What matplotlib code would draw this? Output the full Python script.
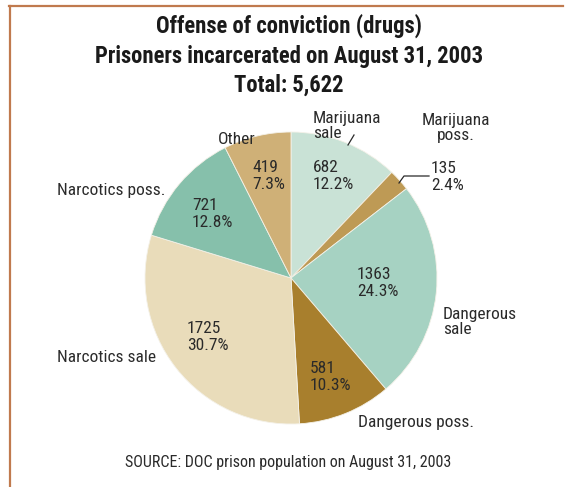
import matplotlib
matplotlib.use("Agg")
import matplotlib.pyplot as plt
from matplotlib.lines import Line2D

plt.rcParams['font.family'] = ['Roboto Condensed', 'Archivo Narrow', 'DejaVu Sans']

categories = ["Marijuana sale", "Marijuana poss.", "Dangerous sale", "Dangerous poss.",
              "Narcotics sale", "Narcotics poss.", "Other"]
counts = [682, 135, 1363, 581, 1725, 721, 419]
percents = [12.2, 2.4, 24.3, 10.3, 30.7, 12.8, 7.3]
colors = ["#C9E2D6", "#BE9A55", "#A6D2C2", "#A87F2D", "#E9DCBA", "#86C0AB", "#CFB077"]

W, H = 568, 487
fig = plt.figure(figsize=(W / 100, H / 100), dpi=100)
fig.patch.set_facecolor("white")

def fx(x):
    return x / W

def fy(y):
    return 1 - y / H

# frame lines along the top and left edge
border = "#C07A4E"
fig.add_artist(Line2D([fx(9), fx(563)], [fy(5.5), fy(5.5)], color=border, lw=1.6))
fig.add_artist(Line2D([fx(9.5), fx(9.5)], [fy(5.5), fy(487)], color=border, lw=1.6))

txt = "#2a2a2a"
for y, line in [(26, "Offense of conviction (drugs)"),
                (56, "Prisoners incarcerated on August 31, 2003"),
                (85, "Total: 5,622")]:
    fig.text(fx(289), fy(y), line, ha="center", va="center",
             fontsize=16.3, fontweight="bold", color="#1a1a1a")

cx, cy, r = 291, 278, 146
ax = fig.add_axes([fx(cx - r), fy(cy + r), 2 * r / W, 2 * r / H])
ax.pie(counts, colors=colors, startangle=90, counterclock=False,
       wedgeprops=dict(linewidth=0.6, edgecolor="#f4f1e8"))
ax.set_xlim(-1, 1)
ax.set_ylim(-1, 1)
ax.set_aspect("auto")
ax.axis("off")

fs = 12.5
# value labels inside (or beside) the slices: (x, y, ha)
value_pos = [(313, 176, "left"), (431, 177, "left"), (357, 283, "left"), (310, 377, "left"),
             (187, 337, "left"), (192, 214, "left"), (252, 176, "left")]
for (x, y, ha), n, p in zip(value_pos, counts, percents):
    fig.text(fx(x), fy(y), f"{n}\n{p}%", ha=ha, va="center", fontsize=fs,
             color=txt, linespacing=1.15)

# category names
name_pos = [(313, 126, "left", "Marijuana\nsale"), (456, 128, "center", "Marijuana\nposs."),
            (443, 322, "left", "Dangerous\nsale"), (358, 423, "left", "Dangerous poss."),
            (156, 358, "right", "Narcotics sale"), (165, 190, "right", "Narcotics poss."),
            (256, 139, "right", "Other")]
for x, y, ha, label in name_pos:
    fig.text(fx(x), fy(y), label, ha=ha, va="center", fontsize=fs, color=txt,
             linespacing=1.05, multialignment="center" if ha == "center" else "left")

# leader lines
fig.add_artist(Line2D([fx(354), fx(348)], [fy(135), fy(145)], color=txt, lw=0.9))
fig.add_artist(Line2D([fx(399), fx(404), fx(429)], [fy(183), fy(176), fy(176)], color=txt, lw=0.9))

fig.text(fx(288), fy(463), "SOURCE: DOC prison population on August 31, 2003",
         ha="center", va="center", fontsize=11.5, color=txt)

fig.savefig("out.png", dpi=100, facecolor="white")
